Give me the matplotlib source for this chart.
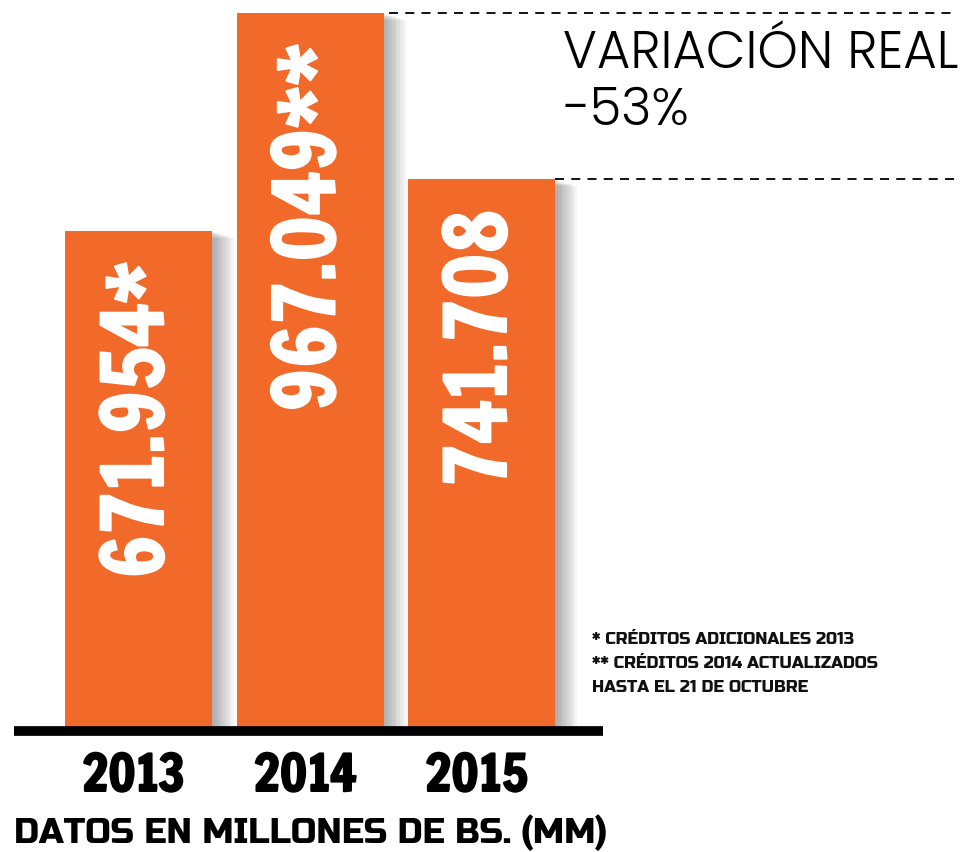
import matplotlib
matplotlib.use("Agg")
import matplotlib.pyplot as plt
import matplotlib.patheffects as pe
from matplotlib import font_manager
from matplotlib.transforms import ScaledTranslation

# data
years = ["2013", "2014", "2015"]
values = [671954, 967049, 741708]
value_labels = ["671.954*", "967.049**", "741.708"]
notes = ["* CRÉDITOS ADICIONALES 2013",
         "** CRÉDITOS 2014 ACTUALIZADOS",
         "HASTA EL 21 DE OCTUBRE"]
variation_title = "VARIACIÓN REAL"
variation_value = "-53%"
footer = "DATOS EN MILLONES DE BS. (MM)"

ORANGE = "#F26A2A"

installed = {f.name for f in font_manager.fontManager.ttflist}

# first family from the list that is installed
def pick(*names):
    for n in names:
        if n in installed:
            return [n, "DejaVu Sans"]
    return ["DejaVu Sans"]

num_font = pick("Francois One", "Anton", "Oswald")
year_font = pick("Francois One", "Anton", "Oswald")
foot_font = pick("Russo One", "Passion One")
note_font = pick("Russo One", "Exo 2")
light_font = pick("Poppins", "Lato", "Open Sans")

W, H = 963, 853
fig = plt.figure(figsize=(W / 100, H / 100), dpi=100)
fig.patch.set_facecolor("white")

# axes: bar base at 728 px from top, tallest bar top at 14 px
base_px = 728
top_px = 14
ax = fig.add_axes([0, (H - base_px) / H, 1, (base_px - top_px) / H])
spacing = 171.5
first_center = 138.5
bar_w = 147 / spacing
ax.set_xlim(-first_center / spacing, (W - first_center) / spacing)
ax.set_ylim(0, max(values))
ax.axis("off")

x = list(range(len(years)))
shadow = [pe.SimplePatchShadow(offset=(d, -d * 0.3), shadow_rgbFace="black", alpha=0.045)
          for d in range(2, 18, 2)] + [pe.Normal()]
bars = ax.bar(x, values, width=bar_w, color=ORANGE, zorder=2)
for b in bars:
    b.set_path_effects(shadow)

# value labels inside bars
for xi, v, lab in zip(x, values, value_labels):
    ax.annotate(lab, xy=(xi, v), xytext=(0, -22), textcoords="offset points",
                rotation=90, ha="center", va="top", color="white",
                fontsize=60, family=num_font, zorder=3,
                path_effects=[pe.withStroke(linewidth=1.5, foreground="white")])

# baseline
down = ScaledTranslation(0, -4 / 100, fig.dpi_scale_trans)
ax.plot([(14 - first_center) / spacing, (603 - first_center) / spacing], [0, 0],
        color="black", lw=7, solid_capstyle="butt", clip_on=False, zorder=4,
        transform=ax.transData + down)

# dashed reference lines from the 2014 and 2015 bar tops
x_right = (955 - first_center) / spacing
ax.hlines(values[1], x[1] + 0.5 * bar_w + 0.03, x_right, colors="black",
          linestyles=(0, (5, 4)), lw=1.3, clip_on=False)
ax.hlines(values[2], x[2] + 0.5 * bar_w, x_right, colors="black",
          linestyles=(0, (5, 4)), lw=1.3, clip_on=False)

# year labels
for xi, yr in zip(x, years):
    ax.text(xi - 0.03, 0, yr,
            transform=ax.transData + ScaledTranslation(0, -0.49, fig.dpi_scale_trans),
            ha="center", va="center", fontsize=36, family=year_font, color="black",
            path_effects=[pe.withStroke(linewidth=1.5, foreground="black")])

fig.text(14 / W, 1 - 833 / H, footer, ha="left", va="center", fontsize=25,
         family=foot_font, color="black")

fig.text(563 / W, 1 - 55 / H, variation_title, ha="left", va="center", fontsize=37,
         fontweight=300, family=light_font, color="black")
fig.text(563 / W, 1 - 112 / H, variation_value, ha="left", va="center", fontsize=37,
         fontweight=300, family=light_font, color="black")

for i, n in enumerate(notes):
    fig.text(592 / W, 1 - (640 + i * 24) / H, n, ha="left", va="center", fontsize=12,
             family=note_font, color="#111111")

fig.savefig("out.png", dpi=100, facecolor="white")
